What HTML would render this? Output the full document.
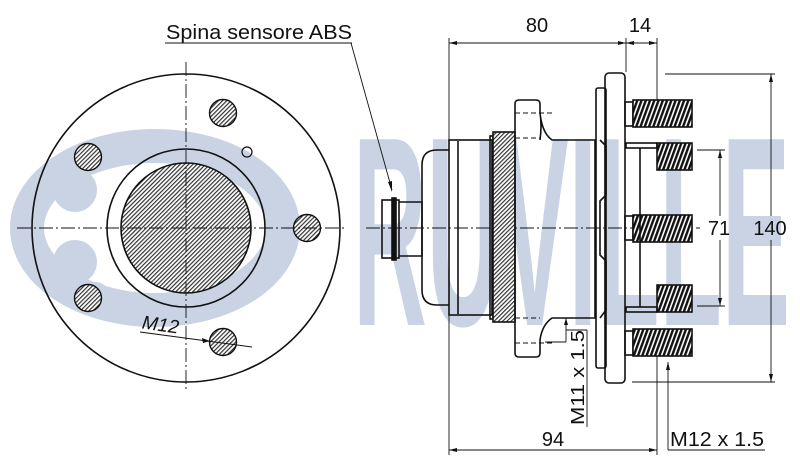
<!DOCTYPE html>
<html><head><meta charset="utf-8"><style>html,body{margin:0;padding:0;background:#fff}svg{display:block}</style></head>
<body>
<svg width="800" height="460" viewBox="0 0 800 460" xmlns="http://www.w3.org/2000/svg" font-family="Liberation Sans, sans-serif">
<defs>
<pattern id="h" width="3" height="3" patternUnits="userSpaceOnUse" patternTransform="rotate(45)"><rect width="3" height="3" fill="#fff"/><rect width="1.2" height="3" fill="#333"/></pattern>
<pattern id="hd" width="4" height="4" patternUnits="userSpaceOnUse" patternTransform="rotate(20)"><rect width="4" height="4" fill="#fff"/><rect width="2.4" height="4" fill="#111"/></pattern>
</defs>
<g fill="#c9d3e4">
<ellipse cx="155" cy="228" rx="128" ry="82" fill="none" stroke="#c9d3e4" stroke-width="34"/>
<circle cx="75" cy="190" r="22"/><circle cx="75" cy="262" r="22"/><circle cx="95" cy="155" r="16"/><circle cx="95" cy="298" r="16"/>
<text x="353" y="325" font-size="270" font-weight="bold" textLength="437" lengthAdjust="spacingAndGlyphs">RUVILLE</text>
</g>
<g fill="none" stroke="#111" stroke-width="1.6">
<circle cx="186" cy="228" r="154"/>
<circle cx="186" cy="228" r="79"/>
<circle cx="186" cy="228" r="65" fill="url(#h)"/>
<g fill="url(#h)" stroke-width="1.4">
<circle cx="223" cy="113" r="13.5"/><circle cx="88" cy="157" r="13.5"/><circle cx="307" cy="228" r="13.5"/><circle cx="88" cy="298" r="13.5"/><circle cx="223" cy="342" r="13.5"/>
</g>
<circle cx="247" cy="152" r="5" stroke-width="1.2"/>
</g>
<g stroke="#111" stroke-width="0.9" stroke-dasharray="14,3,2,3" fill="none">
<line x1="186" y1="62" x2="186" y2="392"/>
<line x1="17" y1="228" x2="347" y2="228"/>
<line x1="366" y1="228" x2="700" y2="228"/>
</g>
<text x="142" y="331" font-size="19" font-style="italic" transform="rotate(8 160 325)" fill="#111">M12</text>
<line x1="140" y1="332" x2="252" y2="347" stroke="#111" stroke-width="0.9"/>
<path d="M210 341 l-8 -3 l1 5z" fill="#111"/>
<text x="166" y="39" font-size="20" fill="#111" textLength="186" lengthAdjust="spacingAndGlyphs">Spina sensore ABS</text>
<line x1="165" y1="43" x2="352" y2="43" stroke="#111" stroke-width="0.9"/>
<line x1="351" y1="43" x2="392" y2="190" stroke="#111" stroke-width="0.9"/>
<path d="M392 192 l-4 -10 l4 -1z" fill="#111"/>
<g fill="none" stroke="#111" stroke-width="1.6">
<rect x="382" y="200" width="17" height="58"/>
<rect x="392" y="198" width="4" height="62" fill="#111"/>
<path d="M399 202 H422 V256 H399"/>
<path d="M449 150 H437 Q422 150 422 165 V290 Q422 305 437 305 H449"/>
<rect x="449" y="140" width="43" height="175"/>
<line x1="458" y1="141" x2="458" y2="314"/>
<rect x="490" y="136" width="3" height="183"/>
<rect x="493" y="132" width="22" height="190" fill="url(#h)"/>
<path d="M540 140 Q542 125 540 113 V104 Q540 100 536 100 H519 Q515 100 515 104 V353 Q515 357 519 357 H536 Q540 357 540 353 V340 Q542 325 552 318 H595 V140 H552 Q542 133 540 113"/>
<rect x="596" y="88" width="10" height="280" rx="2"/>
<rect x="605" y="73" width="20" height="310" rx="4"/>
<path d="M600 140 L606 146 V195 L600 201 V255 L606 261 V310 L600 318"/>
<rect x="625" y="102" width="8" height="24"/>
<rect x="625" y="216" width="8" height="24"/>
<rect x="625" y="331" width="8" height="24"/>
<rect x="633" y="100" width="59" height="27" fill="url(#hd)"/>
<rect x="633" y="215" width="59" height="27" fill="url(#hd)"/>
<rect x="633" y="329" width="59" height="27" fill="url(#hd)"/>
<rect x="657" y="143" width="35" height="27" fill="url(#hd)"/>
<rect x="657" y="285" width="35" height="27" fill="url(#hd)"/>
<rect x="626" y="143" width="31" height="5"/>
<rect x="626" y="307" width="31" height="5"/>
<line x1="640" y1="148" x2="640" y2="307"/>
</g>
<g stroke="#111" stroke-width="0.9" fill="none">
<line x1="515" y1="113" x2="555" y2="113" stroke-dasharray="5,3"/>
<line x1="515" y1="343" x2="555" y2="343" stroke-dasharray="5,3"/>
<line x1="515" y1="138" x2="540" y2="138" stroke-dasharray="5,3"/>
<line x1="515" y1="318" x2="540" y2="318" stroke-dasharray="5,3"/>
<line x1="449" y1="38" x2="449" y2="455"/>
<line x1="626" y1="38" x2="626" y2="72"/>
<line x1="657" y1="38" x2="657" y2="100"/>
<line x1="657" y1="356" x2="657" y2="455"/>
<line x1="449" y1="43" x2="657" y2="43"/>
<line x1="449" y1="450" x2="657" y2="450"/>
<line x1="665" y1="74" x2="775" y2="74"/>
<line x1="632" y1="382" x2="775" y2="382"/>
<line x1="771" y1="74" x2="771" y2="216"/>
<line x1="771" y1="240" x2="771" y2="382"/>
<line x1="697" y1="150" x2="725" y2="150"/>
<line x1="697" y1="306" x2="725" y2="306"/>
<line x1="720" y1="150" x2="720" y2="216"/>
<line x1="720" y1="240" x2="720" y2="306"/>
<line x1="668" y1="362" x2="668" y2="450"/>
<line x1="668" y1="450" x2="765" y2="450"/>
<line x1="566" y1="318" x2="566" y2="342"/>
<line x1="545" y1="342" x2="566" y2="342"/>
<line x1="566" y1="330" x2="587" y2="330"/>
<line x1="587" y1="330" x2="587" y2="427"/>
</g>
<g fill="#111">
<path d="M449 43 l8 -2 v4z M626 43 l-8 -2 v4z M626 43 l8 -2 v4z M657 43 l-8 -2 v4z"/>
<path d="M449 450 l8 -2 v4z M657 450 l-8 -2 v4z"/>
<path d="M771 74 l-2 8 h4z M771 382 l-2 -8 h4z M720 150 l-2 8 h4z M720 306 l-2 -8 h4z"/>
<path d="M668 362 l-2 8 h4z M566 318 l-2 7 h4z"/>
</g>
<g font-size="20" fill="#111">
<text x="537" y="32" text-anchor="middle">80</text>
<text x="640" y="32" text-anchor="middle">14</text>
<text x="553" y="446" text-anchor="middle">94</text>
<text x="719" y="235" text-anchor="middle">71</text>
<text x="770" y="235" text-anchor="middle">140</text>
<text x="670" y="446" textLength="94" lengthAdjust="spacingAndGlyphs">M12 x 1.5</text>
<text x="0" y="0" font-size="18" transform="translate(584 425) rotate(-90)" textLength="95" lengthAdjust="spacingAndGlyphs">M11 x 1.5</text>
</g>
</svg>
</body></html>
